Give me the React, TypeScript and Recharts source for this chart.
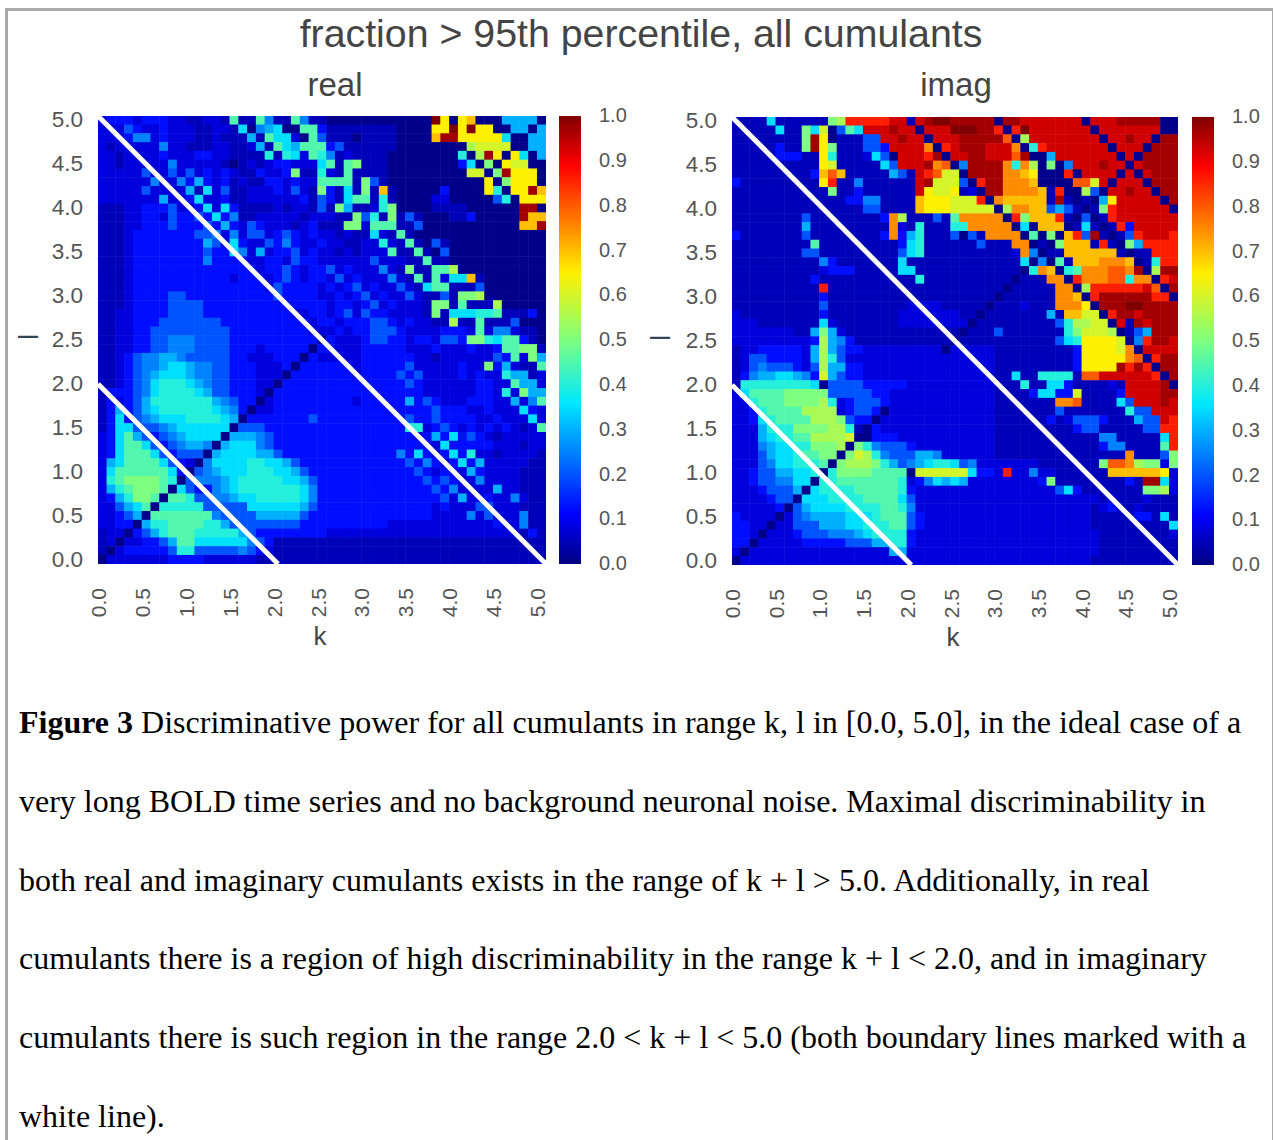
import {
  BarChart,
  Bar,
  ScatterChart,
  Scatter,
  XAxis,
  YAxis,
  ReferenceLine,
} from "recharts";

const REAL_ROWS = [
  "2333233322 1122191195 1195110000 00000000kd 0de0006666 0",
  "2224322322 2112217056 7009931111 11110000dd kdkdd00660 6",
  "2223552322 2112111619 7720941110 11110000ej jddddd7006 6",
  "2122222522 1112211261 9769993411 1111000000 00bcccc006 6",
  "2212222322 2332211118 1872985121 1110000000 080bjd0d70 6",
  "2212222252 2222101212 332227919a 1110000000 0370a0dcc0 0",
  "2222242242 4232321132 23a1182191 1110000000 00cc0ajddd 0",
  "2222225225 3632312113 3232299991 a410000000 0000d0addd 0",
  "2222242222 6172411222 32421a3171 a1e1000003 0000d80ddj e",
  "2222222622 3722311222 2223143179 9181000022 00000480dd d",
  "1112233342 2372731111 2122141a61 128a000011 11000000jj 0",
  "1112233243 3437351122 222122211a 481a141000 11300000je e",
  "1112233343 3343632432 22123111aa 2999114000 00000000ee j",
  "1112333333 3445252442 3432322121 1721910000 0000000000 0",
  "1112333333 3364273224 3532232211 2282191041 0000000000 0",
  "1112333333 3343375262 3342322121 2229119104 0000000000 0",
  "1112333333 3353333223 3243322222 2422211911 0000000000 0",
  "1112333333 3333333323 3432334232 22521a1199 b000000000 0",
  "1112333333 3333323332 3432332423 2225219192 77e1000000 0",
  "1112333333 3333333332 4333323234 2322421799 1114000000 0",
  "1112333344 3333333333 4333322323 4232242114 1aab000000 0",
  "1112333344 4433333333 3333332332 34232221aa 19111b0000 0",
  "1122333344 4433333333 3322332342 43322221a1 7778891113 0",
  "1122333444 4444333333 3333233233 3443232211 b119111400 0",
  "1122334444 4444433333 3333222323 3444322223 3329255211 0",
  "1122334455 5444433333 3333303222 3443323324 43aa879931 0",
  "1122334455 5444433323 3333033222 3333322232 22322399aa 1",
  "1123455665 4444433222 3330322222 3333332212 222224392a 6",
  "1123455677 6554433322 2303333332 3333342222 2322a36211 9",
  "1123456777 6554433322 2033333332 3333434222 2323228661 2",
  "1123457888 7654433322 0333333333 3333343222 2223322966 2",
  "1333457888 8764433320 3333333333 3333333222 22233282a6 6",
  "1323468888 8886543302 3333333332 3333363432 2233322625 9",
  "1363467888 8887653022 3333333333 3333333343 3322322273 2",
  "1373456777 8888760333 3333433333 3333343343 3332232227 2",
  "1377444567 7777704443 3333333333 3333388234 3232323212 9",
  "2379643456 7777066654 3333333333 3333332363 7343212222 2",
  "2379974345 6650677754 3333333333 3333333327 3333322212 2",
  "2379997434 4406777766 4333333333 3333537323 7382212222 1",
  "2679999743 2057777887 7643333333 3333343532 3736222221 1",
  "2799999973 0456777888 7764333333 3333334323 3263222211 1",
  "289aaaa980 4555678888 8776433333 3333333434 3225222211 1",
  "2689aaa907 4335678888 8887533333 3333333343 5222262211 1",
  "2368aa9099 8445567788 8887533333 3333333334 2622322521 1",
  "2246790888 8844444777 7776433333 3333333323 2224422211 1",
  "2234609999 9995444466 6664333333 3333333322 2252422251 1",
  "2233068899 9988644444 4443333333 3332222222 2222232251 1",
  "1220346899 9888886433 3333332222 2222222222 2222222213 1",
  "1202233469 9777777543 1111111111 1111111111 1111111111 1",
  "1023333348 8444445432 1111111111 1111111111 1111111111 1",
  "0222222233 3322222211 1111111111 1111111111 1111111111 1",
];

const IMAG_ROWS = [
  "1111711111 1abhhhhhii 1ijkkjjjjj 0jjiiiiiii 0iiijjjjj0 0",
  "11111711a7 c0497iiiji i0iiikkkjj h0hkiiiiii i0iiiiiii0 0",
  "11111111aj d011144iij ii0iiijjjj jg0biiiiii ii0iijii0j j",
  "11111311aj da111443ii iif0hijjji iif08hiiii iii0iii0jj j",
  "1111133311 d81112740i iihj0iijji iigj006iii iiii0i0jjj j",
  "1111111111 dc1111174i iijfg05jjj jf8fb0a05i iijii0ijjj j",
  "1111111113 ege1111164 1ihgcc0jjj jffed000h0 iiii0i0ijj j",
  "3111111111 dh11511111 1ijccc40hj jfffe0000g gci0iii0jj j",
  "1111111111 1a11311111 1idccd120j jffffe1h00 b40iijii0j j",
  "1111111111 1113355111 1edddccch0 feeeee1j10 106diiiii0 j",
  "1111111111 1111144111 1edddccccc 0bffee4641 01ahiiiiii 0",
  "1111111141 11111113fb 111419ffff f0haeeeh10 401hiiiiii i",
  "1111111161 11111111f2 1811188fff ff070eee01 7101h3iiii i",
  "3111111141 11111113f3 681114041f fff090a0eh 4j1014hiii h",
  "1111111119 1111111113 7811111141 11ff010aee e1h10a6hhh h",
  "1111111144 1111111114 7811111111 112f5011ee eeee1011hh h",
  "1111111111 5311111117 1111111111 111705091e eefffe018h h",
  "1111111111 2333111117 7111111111 11108fe089 fffggfj0bj j",
  "1111111113 1111111111 1811111111 110111ff0h fffgg8ff0h i",
  "1111111111 h111111111 1111111111 1011111ff0 bhhhhhhig0 j",
  "1111111111 3111111111 1111111111 0111111ffe 0hjjjjjjhh 0",
  "1111111111 4111111111 2222111110 1112111fff d0jjjkkjjj j",
  "2111111111 3111111112 2222221101 11111161ee cc0hjjijjj j",
  "2221111111 7211111112 2222222011 111111148b bcc0i1jijj j",
  "2222222116 a621111111 1111110111 411111118a cccb0146jj j",
  "2222222223 b653111111 1111101111 1111111478 ddddc05hjj i",
  "1223333326 b643322222 2222022222 1111111113 ddddcf0iii i",
  "1244333326 b842222222 2222222222 1111111113 dddddfg0hj j",
  "1245444324 b663322222 2222222222 1111111113 ddddjhjh0j j",
  "1356677653 c643322222 2222222222 1171188881 ggiiiiiih0 j",
  "1888888887 0444433333 2222222222 1118117731 11121iiiij 0",
  "279999aaaa a444443322 2222222222 111137733c 11113iiiij j",
  "228999aaaa b823444322 2222222222 1111111ffg 111174iiij i",
  "22389999bb bb23443022 2222222222 1111111411 11111844ii i",
  "223789999b bba4330222 2222222222 1111113124 443111644i h",
  "2226888aaa abb8103222 2222222222 1111111113 441111144h h",
  "222678899b bbbc003332 2222222222 1111111111 1155111117 h",
  "222567788a aab0a85444 3222222222 1111111111 1135511119 h",
  "2224677899 aa0acb8544 4665222222 1111111111 11111f1114 a",
  "2224577888 90abbba864 5678874522 2222211111 11aggfbaa2 a",
  "2234466778 08aaaa9999 0cccccc733 2h22522111 111eeeeeed 2",
  "2234455770 8899999998 2357676222 222223a111 1111131jj7 2",
  "2223444607 8888999998 3222222222 2222222473 1111111aab 2",
  "2222344077 7888899997 4222222222 2222222222 2212111211 1",
  "2222230467 7778888998 5222222222 2222222222 2123112111 1",
  "3222202456 6667778999 4322222222 2222222222 2111113317 1",
  "3322022444 6667788899 4322222222 2222222222 2111111111 7",
  "3320222344 4555678888 3222222222 2222222222 2211111111 2",
  "3302222233 3334446688 3222222222 2222222222 2211111111 1",
  "2022222222 2222222266 2222222222 2222222222 2211111111 1",
  "0222222222 2222222222 2222222222 2222222222 2111111111 1",
];

const AXIS_TICKS = [0, 0.5, 1, 1.5, 2, 2.5, 3, 3.5, 4, 4.5, 5];
const BAR_TICKS = [0, 0.1, 0.2, 0.3, 0.4, 0.5, 0.6, 0.7, 0.8, 0.9, 1];
const BAR_DATA = [{ name: "fraction", top: 1 }];
const LEVELS = "0123456789abcdefghijk";
const LEVEL_VALUES = [
  0.01, 0.05, 0.08, 0.125, 0.2, 0.25, 0.3, 0.35, 0.4, 0.45, 0.5,
  0.55, 0.6, 0.65, 0.7, 0.75, 0.8, 0.86, 0.93, 0.97, 1,
];
const BOUNDARIES = [2, 5];

const JET_STOPS: [number, number, number, number][] = [
  [0, 0, 0, 127],
  [0.11, 0, 0, 255],
  [0.36, 0, 232, 255],
  [0.5, 127, 255, 127],
  [0.65, 255, 240, 0],
  [0.89, 255, 0, 0],
  [1, 127, 0, 0],
];

const CAPTION = [
  "Discriminative power for all cumulants in range k, l in [0.0, 5.0], in the ideal case of a",
  "very long BOLD time series and no background neuronal noise. Maximal discriminability in",
  "both real and imaginary cumulants exists in the range of k + l > 5.0. Additionally, in real",
  "cumulants there is a region of high discriminability in the range k + l < 2.0, and in imaginary",
  "cumulants there is such region in the range 2.0 < k + l < 5.0 (both boundary lines marked with a",
  "white line).",
];

const SANS = "'Liberation Sans', Arial, sans-serif";
const GREY = "#555";

function jet(v: number): string {
  for (let i = 1; i < JET_STOPS.length; i++) {
    const [b, r1, g1, b1] = JET_STOPS[i];
    if (v <= b) {
      const [a, r0, g0, b0] = JET_STOPS[i - 1];
      const t = (v - a) / (b - a);
      return `rgb(${r0 + (r1 - r0) * t},${g0 + (g1 - g0) * t},${b0 + (b1 - b0) * t})`;
    }
  }
  return "rgb(127,0,0)";
}

function toCells(rows: string[]) {
  const cells: { k: number; l: number; value: number }[] = [];
  rows.forEach((row, r) => {
    row.replace(/ /g, "").split("").forEach((ch, c) => {
      cells.push({ k: c / 10, l: (50 - r) / 10, value: LEVEL_VALUES[LEVELS.indexOf(ch)] });
    });
  });
  return cells;
}

function RotatedTick({ x, y, payload }: any) {
  return (
    <text
      x={x - 4}
      y={y}
      transform={`rotate(-90 ${x - 4} ${y})`}
      textAnchor="end"
      dy="0.36em"
      fontSize={21}
      fontFamily={SANS}
      fill={GREY}
    >
      {payload.value.toFixed(1)}
    </text>
  );
}

function Heatmap({ rows, left, top, width, height, dash }: {
  rows: string[];
  left: number;
  top: number;
  width: number;
  height: number;
  dash: number;
}) {
  const cellW = width / 51 + 0.5;
  const cellH = height / 51 + 0.5;
  const edge = 5.05;
  return (
    <div style={{ position: "absolute", left, top }}>
      <ScatterChart
        width={98 + width + 4}
        height={116 + height + 100}
        margin={{ top: 116, right: 4, bottom: 0, left: 0 }}
      >
        <XAxis
          type="number"
          dataKey="k"
          domain={[-0.05, edge]}
          ticks={AXIS_TICKS}
          allowDataOverflow
          height={100}
          axisLine={false}
          tickLine={false}
          tickMargin={18}
          tick={<RotatedTick />}
          interval={0}
          label={{ value: "k", position: "insideTop", dx: -2, offset: 63, fontSize: 26, fontFamily: SANS, fill: "#444" }}
        />
        <YAxis
          type="number"
          dataKey="l"
          domain={[-0.05, edge]}
          ticks={AXIS_TICKS}
          allowDataOverflow
          width={98}
          axisLine={false}
          tickLine={false}
          tickMargin={9}
          interval={0}
          tickFormatter={(v: number) => v.toFixed(1)}
          tick={{ fontSize: 22.5, fontFamily: SANS, fill: GREY, dy: -1 }}
          label={{ value: "l", angle: -90, position: "insideLeft", offset: dash, fontSize: 28, fontFamily: SANS, fill: "#345" }}
        />
        <Scatter
          data={toCells(rows)}
          isAnimationActive={false}
          shape={(p: any) => (
            <rect x={p.cx - cellW / 2} y={p.cy - cellH / 2} width={cellW} height={cellH} fill={jet(p.payload.value)} />
          )}
        />
        {BOUNDARIES.map((b) => (
          <ReferenceLine
            key={b}
            segment={b === 5
              ? [{ x: -0.05, y: edge }, { x: edge, y: -0.05 }]
              : [{ x: -0.05, y: b }, { x: b, y: -0.05 }]}
            stroke="#fff"
            strokeWidth={5}
            zIndex={900}
          />
        ))}
      </ScatterChart>
    </div>
  );
}

function ColorBar({ id, left, top, size }: { id: string; left: number; top: number; size: number }) {
  return (
    <div style={{ position: "absolute", left, top }}>
      <BarChart
        width={90}
        height={size + 30}
        data={BAR_DATA}
        barCategoryGap={0}
        margin={{ top: 15, right: 0, bottom: 15, left: 0 }}
      >
        <defs>
          <linearGradient id={id} x1="0" y1="1" x2="0" y2="0">
            {JET_STOPS.map(([o, r, g, b]) => (
              <stop key={o} offset={o} stopColor={`rgb(${r},${g},${b})`} />
            ))}
          </linearGradient>
        </defs>
        <XAxis dataKey="name" hide />
        <YAxis
          type="number"
          orientation="right"
          domain={[0, 1]}
          ticks={BAR_TICKS}
          interval={0}
          width={68}
          axisLine={false}
          tickLine={false}
          tickMargin={12}
          tickFormatter={(v: number) => v.toFixed(1)}
          tick={{ fontSize: 20, fontFamily: SANS, fill: GREY, dy: -1 }}
        />
        <Bar dataKey="top" fill={`url(#${id})`} isAnimationActive={false} />
      </BarChart>
    </div>
  );
}

function label(text: string, x: number, y: number, fontSize: number) {
  return (
    <div
      style={{
        position: "absolute",
        left: x,
        top: y,
        transform: "translate(-50%, -50%)",
        fontFamily: SANS,
        fontSize,
        color: "#444",
        whiteSpace: "nowrap",
      }}
    >
      {text}
    </div>
  );
}

export default function App() {
  return (
    <div style={{ position: "absolute", left: 0, top: 0, width: 1273, height: 1140, overflow: "hidden", background: "#fff" }}>
      <div
        style={{
          position: "absolute",
          left: 5,
          top: 8,
          width: 1264,
          height: 1140,
          borderLeft: "3px solid #aaa",
          borderRight: "3px solid #aaa",
          borderTop: "3px solid #aaa",
        }}
      />
      {label("fraction > 95th percentile, all cumulants", 641, 33, 39.3)}
      {label("real", 335, 85, 33)}
      {label("imag", 956, 85, 33)}

      <Heatmap rows={REAL_ROWS} left={0} top={0} width={448} height={448} dash={28} />
      <ColorBar id="jetReal" left={559} top={101} size={448} />
      <Heatmap rows={IMAG_ROWS} left={634} top={1} width={446} height={448} dash={26} />
      <ColorBar id="jetImag" left={1192} top={102} size={448} />

      <div
        style={{
          position: "absolute",
          left: 19,
          top: 683,
          fontFamily: "'Liberation Serif', 'Times New Roman', serif",
          fontSize: 32,
          lineHeight: "78.8px",
          color: "#000",
          whiteSpace: "nowrap",
        }}
      >
        {CAPTION.map((line, i) => (
          <div key={i}>
            {i === 0 && <b>Figure 3 </b>}
            {line}
          </div>
        ))}
      </div>
    </div>
  );
}
